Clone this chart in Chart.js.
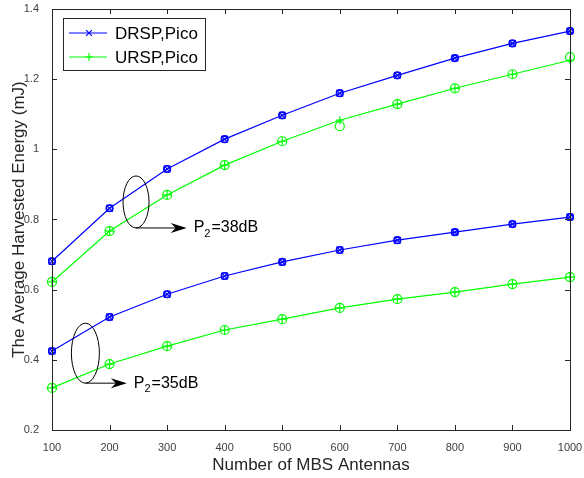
<!DOCTYPE html>
<html>
<head>
<meta charset="utf-8">
<script src="https://cdn.jsdelivr.net/npm/chart.js@4"></script>
<style>
  html, body { margin: 0; padding: 0; background: #fff; }
  #wrap { width: 584px; height: 478px; }
</style>
</head>
<body>
<div id="wrap"><canvas id="chart"></canvas></div>
<script>
/* data */
const antennas = [100, 200, 300, 400, 500, 600, 700, 800, 900, 1000];
const drsp38 = [0.681, 0.832, 0.944, 1.029, 1.097, 1.160, 1.211, 1.260, 1.302, 1.337];
const ursp38 = [0.622, 0.767, 0.870, 0.955, 1.023, 1.083, 1.129, 1.174, 1.214, 1.254];
const ursp38sim = [0.622, 0.767, 0.870, 0.955, 1.023, 1.066, 1.129, 1.174, 1.214, 1.263];
const drsp35 = [0.425, 0.522, 0.587, 0.639, 0.679, 0.713, 0.741, 0.764, 0.787, 0.807];
const ursp35 = [0.320, 0.388, 0.439, 0.485, 0.516, 0.548, 0.573, 0.593, 0.616, 0.636];
const yTicks = [0.2, 0.4, 0.6, 0.8, 1, 1.2, 1.4];
const legendLabels = ['DRSP,Pico', 'URSP,Pico'];

const BLUE = '#0000ff';
const GREEN = '#00ff00';
const FONT = '"Liberation Sans", Arial, sans-serif';

function pts(arr){
  return arr.map((v, i) => ({x: antennas[i], y: v}));
}

function lineSet(arr, color, style){
  return {
    data: pts(arr), borderColor: color, backgroundColor: color,
    borderWidth: 1.2, pointStyle: style, pointRadius: 4,
    pointBorderWidth: 1.2, showLine: true
  };
}
function markSet(arr, color, style, r){
  return {
    data: pts(arr), borderColor: color, backgroundColor: 'rgba(0,0,0,0)',
    borderWidth: 1.2, pointStyle: style, pointRadius: r,
    pointBorderWidth: 1.2, showLine: false
  };
}

// box, inward ticks, legend and annotations
const decor = {
  id: 'decor',
  afterDraw(chart){
    const ctx = chart.ctx;
    const a = chart.chartArea;
    const xs = chart.scales.x, ys = chart.scales.y;
    ctx.save();
    ctx.strokeStyle = '#262626';
    ctx.lineWidth = 1;
    ctx.strokeRect(a.left + 0.5, a.top + 0.5, a.right - a.left, a.bottom - a.top);
    ctx.beginPath();
    antennas.forEach(v => {
      const x = Math.round(xs.getPixelForValue(v)) + 0.5;
      ctx.moveTo(x, a.bottom); ctx.lineTo(x, a.bottom - 5);
      ctx.moveTo(x, a.top); ctx.lineTo(x, a.top + 5);
    });
    yTicks.forEach(v => {
      const y = Math.round(ys.getPixelForValue(v)) + 0.5;
      ctx.moveTo(a.left, y); ctx.lineTo(a.left + 5, y);
      ctx.moveTo(a.right, y); ctx.lineTo(a.right - 5, y);
    });
    ctx.stroke();

    // legend
    const lx = a.left + 11, ly = a.top + 9, lw = 142, lh = 52;
    ctx.fillStyle = '#fff';
    ctx.fillRect(lx, ly, lw, lh);
    ctx.strokeStyle = '#262626';
    ctx.strokeRect(lx + 0.5, ly + 0.5, lw, lh);
    [[BLUE, 'crossRot'], [GREEN, 'cross']].forEach((s, i) => {
      const y = ly + 15 + i * 24;
      ctx.strokeStyle = s[0];
      ctx.lineWidth = 1.2;
      ctx.beginPath(); ctx.moveTo(lx + 6, y); ctx.lineTo(lx + 44, y); ctx.stroke();
      Chart.helpers.drawPoint(ctx, {pointStyle: s[1], radius: 4, borderWidth: 1.2}, lx + 26, y);
      ctx.fillStyle = '#000';
      ctx.font = '17px ' + FONT;
      ctx.textBaseline = 'middle';
      ctx.fillText(legendLabels[i], lx + 52, y + 1);
    });

    // annotations: ellipse, arrow from its bottom, label P2=..
    function note(cx, cy, rx, ry, tipX, sub){
      const px = xs.getPixelForValue(cx), py = ys.getPixelForValue(cy);
      ctx.strokeStyle = '#000';
      ctx.lineWidth = 1;
      ctx.beginPath();
      ctx.ellipse(px, py, rx, ry, 0, 0, Math.PI * 2);
      ctx.stroke();
      const y = py + ry;
      const x1 = xs.getPixelForValue(tipX);
      ctx.beginPath(); ctx.moveTo(px, y); ctx.lineTo(x1 - 8, y); ctx.stroke();
      ctx.fillStyle = '#000';
      ctx.beginPath();
      ctx.moveTo(x1, y); ctx.lineTo(x1 - 16, y - 5); ctx.lineTo(x1 - 11, y); ctx.lineTo(x1 - 16, y + 5);
      ctx.closePath(); ctx.fill();
      ctx.font = '16px ' + FONT;
      ctx.textBaseline = 'middle';
      const tx = x1 + 7;
      ctx.fillText('P', tx, y);
      const pw = ctx.measureText('P').width;
      ctx.font = '11px ' + FONT;
      ctx.fillText('2', tx + pw, y + 6);
      const sw = ctx.measureText('2').width;
      ctx.font = '16px ' + FONT;
      ctx.fillText(sub, tx + pw + sw + 1, y);
    }
    note(246, 0.850, 13, 26, 334, '=38dB');
    note(158, 0.419, 14, 30, 230, '=35dB');
    ctx.restore();
  }
};

new Chart(document.getElementById('chart'), {
  type: 'scatter',
  data: {
    datasets: [
      lineSet(drsp38, BLUE, 'crossRot'),
      markSet(drsp38, BLUE, 'rect', 4),
      markSet(drsp38, BLUE, 'circle', 3.5),
      lineSet(ursp38, GREEN, 'cross'),
      markSet(ursp38sim, GREEN, 'circle', 4.5),
      lineSet(drsp35, BLUE, 'crossRot'),
      markSet(drsp35, BLUE, 'rect', 4),
      markSet(drsp35, BLUE, 'circle', 3.5),
      lineSet(ursp35, GREEN, 'cross'),
      markSet(ursp35, GREEN, 'circle', 4.5)
    ]
  },
  plugins: [decor],
  options: {
    responsive: true,
    maintainAspectRatio: false,
    animation: false,
    events: [],
    clip: false,
    layout: { padding: { top: 9, right: 14, left: 4, bottom: 2 } },
    plugins: { legend: { display: false }, tooltip: { enabled: false } },
    scales: {
      x: {
        type: 'linear', min: 100, max: 1000,
        afterBuildTicks: s => { s.ticks = antennas.map(v => ({value: v})); },
        grid: { display: false },
        border: { display: false },
        ticks: { color: '#404040', font: { family: FONT, size: 11 }, padding: 3, maxRotation: 0,
                 callback: v => String(v) },
        title: { display: true, text: 'Number of MBS Antennas', color: '#262626',
                 font: { family: FONT, size: 17 }, padding: { top: 2, bottom: 0 } },
        afterFit: s => { s.height = 46; s.paddingLeft = 0; s.paddingRight = 0; }
      },
      y: {
        type: 'linear', min: 0.2, max: 1.4,
        afterBuildTicks: s => { s.ticks = yTicks.map(v => ({value: v})); },
        grid: { display: false },
        border: { display: false },
        ticks: { color: '#404040', font: { family: FONT, size: 11 }, padding: 5,
                 callback: v => String(Math.round(v * 10) / 10) },
        title: { display: true, text: 'The Average Harvested Energy (mJ)', color: '#262626',
                 font: { family: FONT, size: 17 }, padding: { top: 5, bottom: 0 } },
        afterFit: s => { s.width = 48; s.paddingTop = 0; s.paddingBottom = 0; }
      }
    }
  }
});
</script>
</body>
</html>
